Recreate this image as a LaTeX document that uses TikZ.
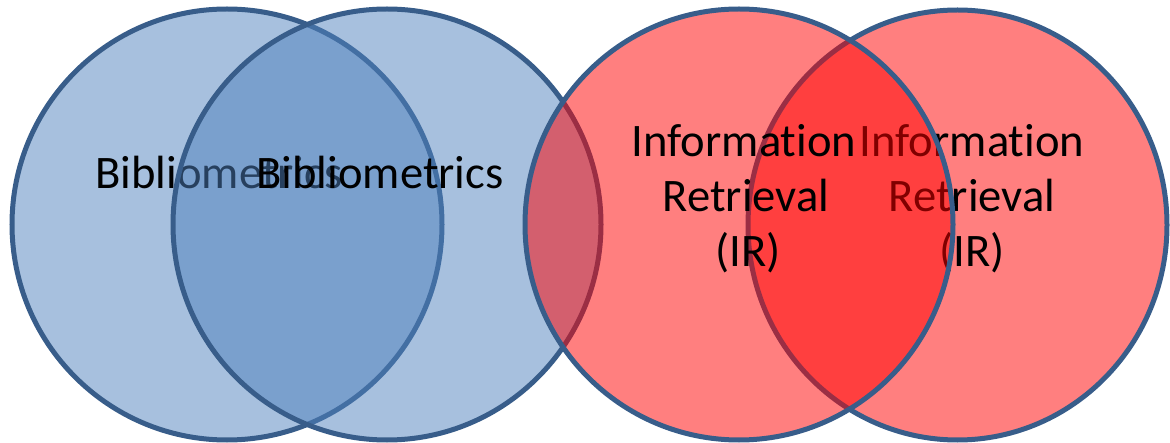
\documentclass[tikz,border=0pt]{standalone}
\usepackage{fontspec}
\setmainfont{Carlito}[Ligatures={NoCommon,NoRare}]
\definecolor{edge}{HTML}{385D8A}
\definecolor{bluef}{HTML}{4F81BD}
\definecolor{redf}{HTML}{FF0000}
\begin{document}
\begin{tikzpicture}[x=1pt,y=-1pt,
  circ/.style={draw=edge, line width=5pt, fill opacity=0.5},
  lbl/.style={font=\fontsize{46.6}{55}\selectfont, anchor=base, inner sep=0pt, text=black}]
\useasboundingbox (0,0) rectangle (1170,443);
% circle 1
\draw[circ, fill=bluef] (227,224.5) ellipse [x radius=215, y radius=215.5];
\node[lbl] (t1) at (219,189) {Bibliometrics};
% circle 2
\draw[circ, fill=bluef] (387,224.5) ellipse [x radius=214, y radius=215.5];
\node[lbl] (t2) at (380,189) {Bibliometrics};
% circle 4
\draw[circ, fill=redf] (957.5,225) ellipse [x radius=209.5, y radius=215];
\node[lbl] (t4a) at (972,157) {Information};
\node[lbl] (t4b) at (972,212) {Retrieval};
\node[lbl] (t4c) at (972,267) {(IR)};
% circle 3
\draw[circ, fill=redf] (739,224.5) ellipse [x radius=214, y radius=215.5];
\node[lbl] (t3a) at (744,157) {Information};
\node[lbl] (t3b) at (746,212) {Retrieval};
\node[lbl] (t3c) at (748,267) {(IR)};
\end{tikzpicture}
\end{document}
